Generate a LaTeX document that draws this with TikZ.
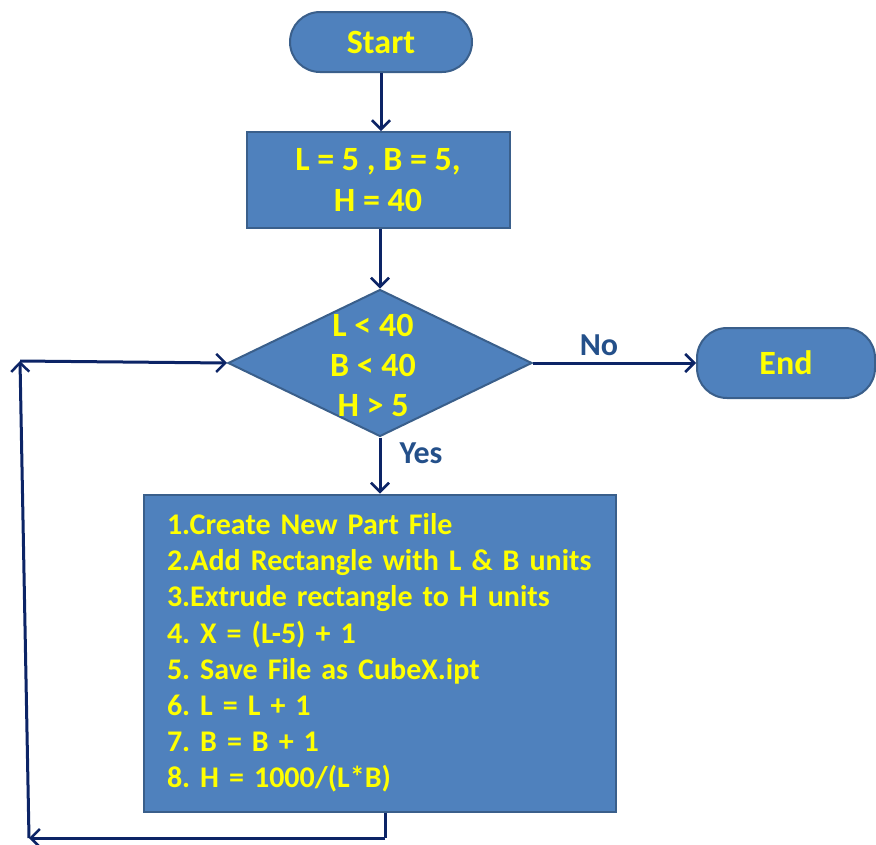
\documentclass[tikz,border=0pt]{standalone}
\usepackage{fontspec}
\setmainfont{Carlito}
\usetikzlibrary{shapes.geometric,arrows.meta}
\frenchspacing
\definecolor{boxfill}{HTML}{4F81BD}
\definecolor{boxline}{HTML}{3A5F8B}
\definecolor{txtyellow}{HTML}{FFFF00}
\definecolor{flow}{HTML}{0C2466}
\definecolor{lbl}{HTML}{24508A}
\tikzset{
  blk/.style={draw=boxline, line width=2pt, fill=boxfill, text=txtyellow,
    font=\bfseries\fontsize{34}{41}\selectfont, inner sep=0pt, align=center},
  term/.style={blk, rounded corners=30pt},
  flowline/.style={draw=flow, line width=3pt,
    -{Straight Barb[length=9pt,width=18pt,line width=2.5pt]}},
  plainline/.style={draw=flow, line width=3pt},
  lab/.style={text=lbl, font=\bfseries\fontsize{32}{36}\selectfont}
}
\begin{document}
\begin{tikzpicture}[x=1pt,y=-1pt]
  \useasboundingbox (0,0) rectangle (876,844);

  % terminals, process boxes and decision
  \node[term, minimum width=182pt, minimum height=60pt] (start) at (381,42) {Start};
  \node[blk, minimum width=263pt, minimum height=96pt] (init) at (378,180)
    {L = 5 , B = 5,\\H = 40};
  \node[diamond, draw=boxline, line width=2pt, fill=boxfill, inner sep=0pt,
    minimum width=304pt, minimum height=147pt] (test) at (380,363) {};
  \node[text=txtyellow, font=\bfseries\fontsize{34}{40}\selectfont, align=center]
    (testtxt) at (373,365) {L < 40\\B < 40\\H > 5};
  \node[term, minimum width=178pt, minimum height=70pt] (end) at (786,363) {End};
  \node[blk, minimum width=472pt, minimum height=317pt, text width=426pt,
    align=left, font=\bfseries\fontsize{30}{36.2}\selectfont] (steps) at (380,653)
    {1.Create New Part File\\
     2.Add Rectangle with L \& B units\\
     3.Extrude rectangle to H units\\
     4. X = (L-5) + 1\\
     5. Save File as CubeX.ipt\\
     6. L = L + 1\\
     7. B = B + 1\\
     8. H = 1000/(L*B)};

  % loop-back corners
  \coordinate (lb) at (385,838);
  \coordinate (cbl) at (29,838);
  \coordinate (ctl) at (20,361);

  % connectors
  \draw[flowline] (start.south) -- (start.south |- init.north);
  \draw[flowline] (init.south -| test.north) -- (test.north);
  \draw[flowline] (test.east) -- (end.west);
  \node[lab] (no) at (599,345) {No};
  \draw[flowline] (test.south) -- (test.south |- steps.north);
  \node[lab] (yes) at (421,453) {Yes};
  \draw[plainline] (steps.south -| lb) -- (lb);
  \draw[flowline] (lb) -- (cbl);
  \draw[flowline] (cbl) -- (ctl);
  \draw[flowline] (ctl) -- (test.west);
\end{tikzpicture}
\end{document}
